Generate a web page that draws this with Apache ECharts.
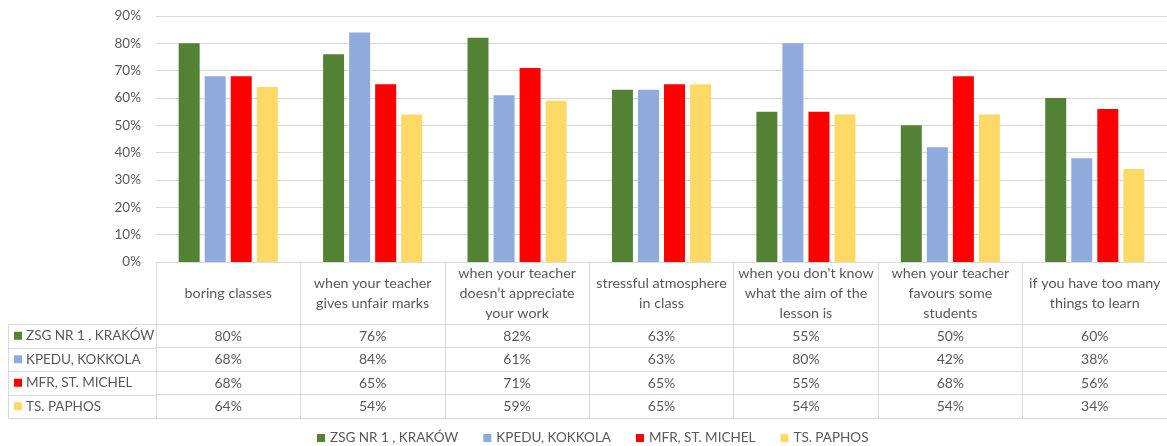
<!DOCTYPE html>
<html>
<head>
<meta charset="utf-8">
<script src="https://cdn.jsdelivr.net/npm/echarts@6/dist/echarts.min.js"></script>
<style>
  html, body { margin: 0; padding: 0; background: #fff; }
  #chart { width: 1167px; height: 446px; }
</style>
</head>
<body>
<div id="chart"></div>
<script>
// Categories (header row of the data table, wrapped as in the table cells)
const categories = [
  'boring classes',
  'when your teacher\ngives unfair marks',
  'when your teacher\ndoesn\u2019t appreciate\nyour work',
  'stressful atmosphere\nin class',
  "when you don't know\nwhat the aim of the\nlesson is",
  'when your teacher\nfavours some\nstudents',
  'if you have too many\nthings to learn'
];

const seriesNames = ['ZSG NR 1 , KRAKÓW', 'KPEDU, KOKKOLA', 'MFR, ST. MICHEL', 'TS. PAPHOS'];

// Percent values per school
const krakow  = [80, 76, 82, 63, 55, 50, 60];
const kokkola = [68, 84, 61, 63, 80, 42, 38];
const michel  = [68, 65, 71, 65, 55, 68, 56];
const paphos  = [64, 54, 59, 65, 54, 54, 34];

const yMax = 90;
const yStep = 10;

const seriesData = [krakow, kokkola, michel, paphos];
const colors = ['#548235', '#8FAADC', '#FF0000', '#FFD966'];

// Layout
const FONT = 'Lato, "Noto Sans", sans-serif';
const TEXT = '#595959';
const LINE = '#D9D9D9';
const GRID_LEFT = 156, GRID_TOP = 16, PLOT_H = 246, PLOT_W = 1015;
const HEADER_H = 62, ROW_H = 23.5;
const TABLE_LEFT = 8;
const TABLE_H = HEADER_H + ROW_H * seriesNames.length;
const axisY = GRID_TOP + PLOT_H;

const chart = echarts.init(document.getElementById('chart'), null, { renderer: 'canvas' });

const xAxes = [{
  type: 'category',
  data: categories,
  position: 'bottom',
  axisLine: { show: true, lineStyle: { color: LINE, width: 1 } },
  axisTick: { show: true, length: TABLE_H, lineStyle: { color: LINE, width: 1 } },
  axisLabel: {
    interval: 0, margin: HEADER_H / 2, verticalAlign: 'middle',
    lineHeight: 20, color: TEXT, fontSize: 14.3, fontFamily: FONT
  },
  splitLine: { show: false }
}];

// One axis per table row: its line is the row's top border, its labels the row's values
seriesData.forEach((vals, i) => {
  xAxes.push({
    type: 'category',
    data: categories,
    position: 'bottom',
    offset: HEADER_H + i * ROW_H,
    axisLine: { show: true, lineStyle: { color: LINE, width: 1 } },
    axisTick: { show: false },
    axisLabel: {
      interval: 0, margin: 5, color: TEXT, fontSize: 14, fontFamily: FONT,
      formatter: (v, idx) => vals[idx] + '%'
    },
    splitLine: { show: false }
  });
});
// Bottom border of the table
xAxes.push({
  type: 'category',
  data: categories,
  position: 'bottom',
  offset: TABLE_H,
  axisLine: { show: true, lineStyle: { color: LINE, width: 1 } },
  axisTick: { show: false },
  axisLabel: { show: false },
  splitLine: { show: false }
});

// Row-label column borders
const px = v => Math.round(v) + 0.5;
const graphics = [];
for (let i = 0; i <= seriesNames.length; i++) {
  const y = px(axisY + HEADER_H + i * ROW_H);
  graphics.push({
    type: 'line', silent: true,
    shape: { x1: TABLE_LEFT, y1: y, x2: GRID_LEFT, y2: y },
    style: { stroke: LINE, lineWidth: 1 }
  });
}
graphics.push({
  type: 'line', silent: true,
  shape: { x1: px(TABLE_LEFT), y1: px(axisY + HEADER_H), x2: px(TABLE_LEFT), y2: px(axisY + TABLE_H) },
  style: { stroke: LINE, lineWidth: 1 }
});

const option = {
  animation: false,
  color: colors,
  textStyle: { fontFamily: FONT },
  grid: { left: GRID_LEFT, top: GRID_TOP, width: PLOT_W, height: PLOT_H, containLabel: false },
  legend: [
    {
      // row labels of the data table
      data: seriesNames,
      orient: 'vertical',
      left: 14,
      top: axisY + HEADER_H + ROW_H / 2 - 8,
      padding: 0,
      itemGap: ROW_H - 16,
      itemWidth: 8, itemHeight: 8, icon: 'rect',
      selectedMode: false,
      textStyle: { color: TEXT, fontSize: 13.5, lineHeight: 16, fontFamily: FONT, padding: [0, 0, 0, -1] }
    },
    {
      data: seriesNames,
      orient: 'horizontal',
      left: 317,
      top: 430,
      padding: 0,
      itemGap: 25,
      itemWidth: 8, itemHeight: 8, icon: 'rect',
      selectedMode: false,
      textStyle: { color: TEXT, fontSize: 13.5, lineHeight: 16, fontFamily: FONT }
    }
  ],
  xAxis: xAxes,
  yAxis: {
    type: 'value',
    min: 0, max: yMax, interval: yStep,
    axisLine: { show: false },
    axisTick: { show: false },
    axisLabel: { formatter: '{value}%', color: TEXT, fontSize: 13.5, fontFamily: FONT, margin: 15 },
    splitLine: { show: true, lineStyle: { color: LINE, width: 1 } }
  },
  series: seriesData.map((vals, i) => ({
    name: seriesNames[i],
    type: 'bar',
    xAxisIndex: 0,
    data: vals,
    barWidth: 21,
    barGap: '24%',
    itemStyle: { color: colors[i] }
  })),
  graphic: graphics
};

chart.setOption(option);
</script>
</body>
</html>
